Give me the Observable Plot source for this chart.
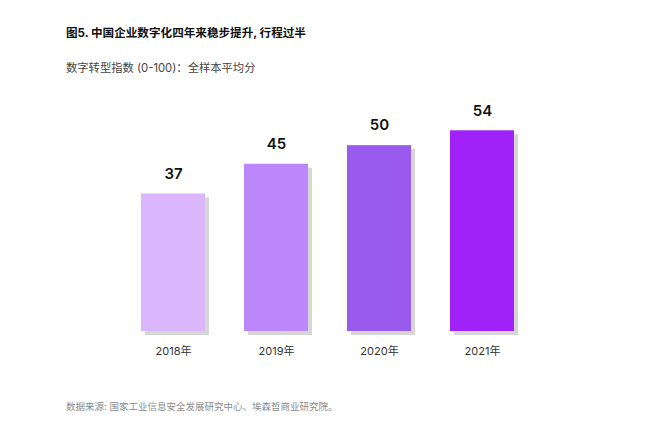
<!DOCTYPE html>
<html><head><meta charset="utf-8">
<script src="https://cdn.jsdelivr.net/npm/d3@7"></script>
<script src="https://cdn.jsdelivr.net/npm/@observablehq/plot@0.6"></script>
<style>
body{margin:0;background:#fff;font-family:Inter,"Noto Sans CJK SC",sans-serif;}
#wrap{position:relative;width:668px;height:448px;overflow:hidden;}
.t{position:absolute;left:66px;white-space:nowrap;}
#title{top:24px;font-size:11.6px;font-weight:700;color:#111;}
#sub{top:59px;font-size:11.3px;color:#444;}
#cap{top:399px;font-size:9.5px;color:#8a8a8a;}
#chart{position:absolute;left:0;top:0;}
</style></head>
<body><div id="wrap">
<div id="chart"></div>
<div class="t" id="title">图5. 中国企业数字化四年来稳步提升, 行程过半</div>
<div class="t" id="sub">数字转型指数 (0-100)：全样本平均分</div>
<div class="t" id="cap">数据来源: 国家工业信息安全发展研究中心、埃森哲商业研究院。</div>
</div>
<script>
const years = ["2018年","2019年","2020年","2021年"];
const values = [37,45,50,54];
const colors = ["#dbb6fd","#bb87fa","#9b5aee","#a022f8"];
const data = years.map((y,i)=>({year:y, value:values[i], color:colors[i]}));
const chart = Plot.plot({
  width:668, height:448,
  marginLeft:121.5, marginRight:134, marginTop:108, marginBottom:117,
  style:{fontFamily:'Inter,"Noto Sans CJK SC",sans-serif', background:"transparent"},
  x:{domain:years, paddingInner:0.38, paddingOuter:0.19, label:null},
  y:{domain:[0,60], axis:null},
  marks:[
    Plot.axisX({tickSize:0, tickPadding:16, fontSize:11, color:"#333", label:null}),
    Plot.barY(data,{x:"year", y:"value", fill:"#d6d6d6", dx:4, dy:4}),
    Plot.barY(data,{x:"year", y:"value", fill:"color"}),
    Plot.text(data,{x:"year", y:"value", text:d=>String(d.value), dy:-20, fontSize:15, fontWeight:600, fill:"#111"})
  ]
});
document.getElementById("chart").appendChild(chart);
</script>
</body></html>
